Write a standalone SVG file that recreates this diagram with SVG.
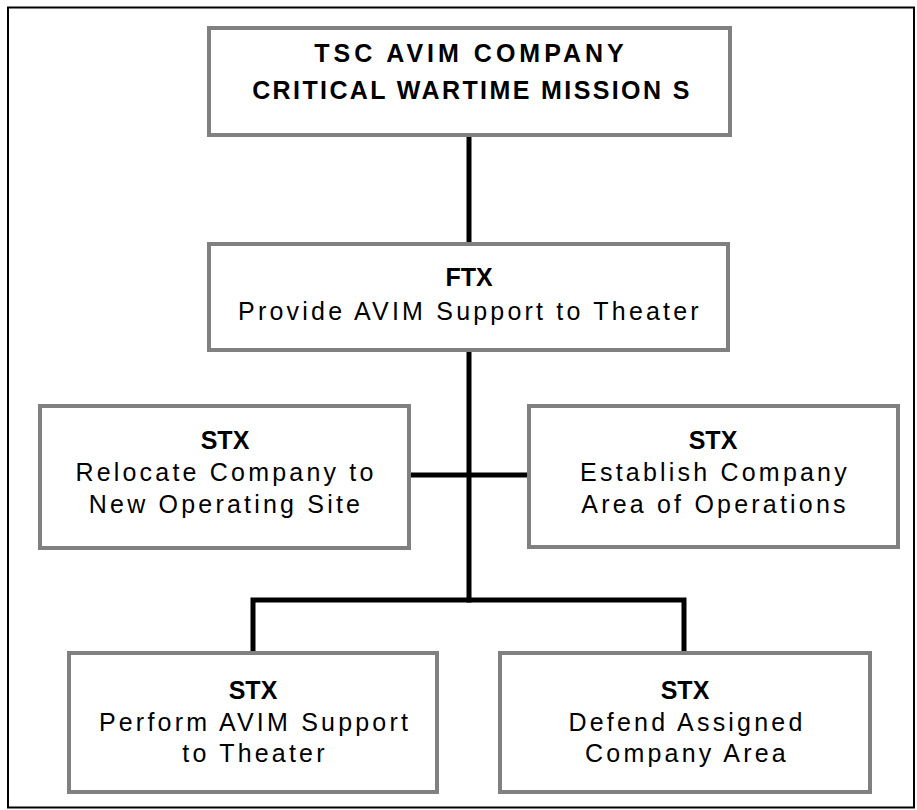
<svg xmlns="http://www.w3.org/2000/svg" width="917" height="810" viewBox="0 0 917 810">
<style>
.frame{fill:none;stroke:#000;stroke-width:2}
.box{fill:#fff;stroke:#808080;stroke-width:4}
.conn{fill:none;stroke:#000;stroke-width:5;stroke-linecap:butt}
text{font-family:"Liberation Sans",Arial,sans-serif;fill:#000;text-anchor:middle}
.t{font-size:25px;font-weight:bold}
.t1{letter-spacing:4px}
.t2{letter-spacing:2.4px}
.h{font-size:25px;font-weight:bold}
.b{font-size:25px;letter-spacing:3.2px}
</style>
<rect width="917" height="810" fill="#fff"/>
<rect class="frame" x="8" y="7.5" width="906" height="800"/>
<g id="connectors">
<line class="conn" x1="469" y1="135" x2="469" y2="244"/>
<line class="conn" x1="469" y1="350" x2="469" y2="602.5"/>
<line class="conn" x1="409" y1="475" x2="529" y2="475"/>
<polyline class="conn" points="253,653 253,600 684,600 684,653"/>
</g>
<g id="top">
<rect class="box" x="209" y="28" width="521" height="107"/>
<text class="t t1" x="471" y="62">TSC AVIM COMPANY</text>
<text class="t t2" x="472" y="99">CRITICAL WARTIME MISSION S</text>
</g>
<g id="ftx">
<rect class="box" x="209" y="244" width="519" height="106"/>
<text class="h" x="469" y="286">FTX</text>
<text class="b" x="470" y="320">Provide AVIM Support to Theater</text>
</g>
<g id="stx-relocate">
<rect class="box" x="40" y="406" width="369" height="142"/>
<text class="h" x="225" y="449">STX</text>
<text class="b" x="226" y="481">Relocate Company to</text>
<text class="b" x="226" y="513">New Operating Site</text>
</g>
<g id="stx-establish">
<rect class="box" x="529" y="406" width="369" height="141"/>
<text class="h" x="713" y="449">STX</text>
<text class="b" x="715" y="481">Establish Company</text>
<text class="b" x="715" y="513">Area of Operations</text>
</g>
<g id="stx-perform">
<rect class="box" x="69" y="653" width="368" height="139"/>
<text class="h" x="253" y="699">STX</text>
<text class="b" x="255" y="731">Perform AVIM Support</text>
<text class="b" x="255" y="762">to Theater</text>
</g>
<g id="stx-defend">
<rect class="box" x="500" y="653" width="370" height="139"/>
<text class="h" x="685" y="699">STX</text>
<text class="b" x="687" y="731">Defend Assigned</text>
<text class="b" x="687" y="762">Company Area</text>
</g>
</svg>
